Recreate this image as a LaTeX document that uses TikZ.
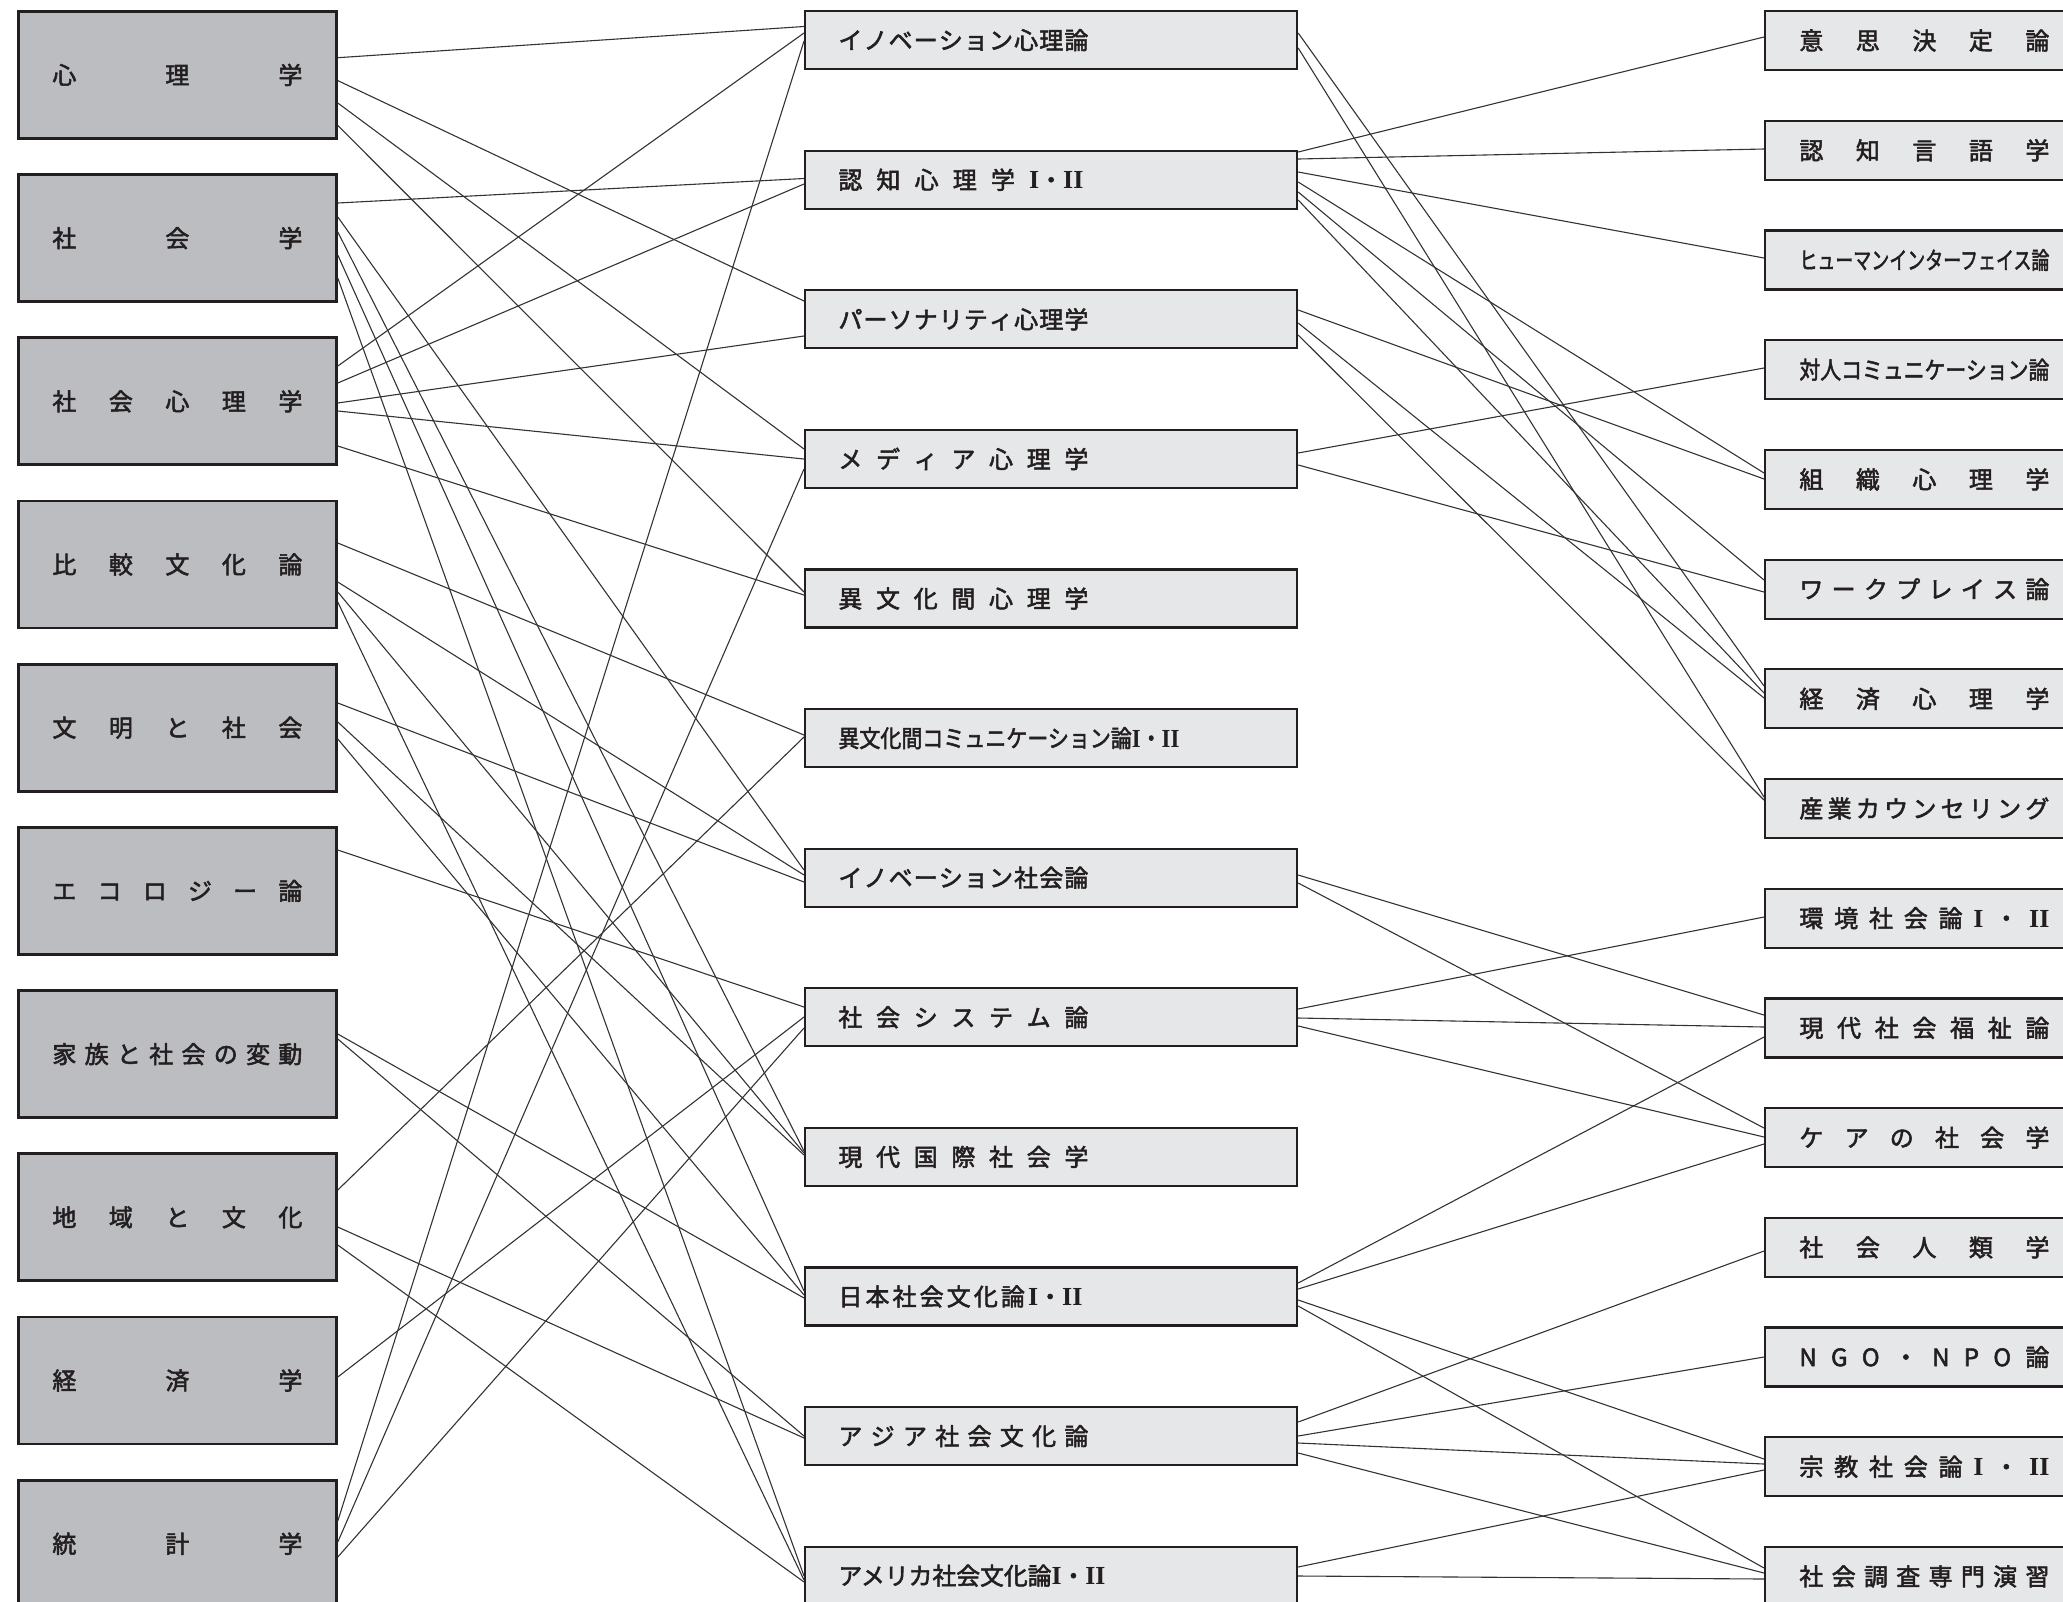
\documentclass[tikz,border=0pt]{standalone}
\usepackage{fontspec}
\usepackage{graphicx}
\newfontfamily\jp{Noto Sans CJK JP}[FakeBold=2.2]
\newfontfamily\romf{Liberation Serif}
\definecolor{leftfill}{HTML}{BCBDC1}
\definecolor{boxfill}{HTML}{E6E7E8}
\definecolor{edge}{HTML}{231F20}
\definecolor{wirec}{HTML}{333333}
\ExplSyntaxOn
\NewDocumentCommand\spreadtxt{mm}{
  \seq_clear:N \l_tmpa_seq
  \tl_map_inline:nn {#2} { \seq_put_right:Nn \l_tmpa_seq {##1} }
  \makebox[#1][s]{ \seq_use:Nn \l_tmpa_seq {\hfill} }
}
\ExplSyntaxOff
\newcommand\squeezetxt[2]{\resizebox{#1}{\height}{#2}}
\newcommand\rI{{\romf\bfseries\fontsize{13pt}{14pt}\selectfont I}}
\newcommand\rII{{\romf\bfseries\fontsize{13pt}{14pt}\selectfont II}}
\newcommand\rIII{\rI・\rII}
\begin{document}
\begin{tikzpicture}[x=0.5pt,y=-0.5pt,
  lbox/.style={draw=edge,line width=1.4pt,fill=leftfill,minimum width=159pt,minimum height=63.5pt,anchor=north west,inner sep=0pt},
  mbox/.style={draw=edge,line width=1.1pt,fill=boxfill,minimum width=246pt,minimum height=29pt,anchor=north west,inner sep=0pt},
  rbox/.style={draw=edge,line width=1.1pt,fill=boxfill,minimum width=165pt,minimum height=29.5pt,anchor=north west,inner sep=0pt},
  lbl/.style={font=\jp\fontsize{12pt}{14pt}\selectfont,text=edge,inner sep=0pt,anchor=west},
  wire/.style={draw=wirec,line width=0.55pt}]
\useasboundingbox (0,0) rectangle (2063,1602);
\clip (0,0) rectangle (2063,1602);
% left column
\node[lbox] (L1) at (17,10) {};
\node[lbox] (L2) at (17,173.2) {};
\node[lbox] (L3) at (17,336.4) {};
\node[lbox] (L4) at (17,499.6) {};
\node[lbox] (L5) at (17,662.8) {};
\node[lbox] (L6) at (17,826) {};
\node[lbox] (L7) at (17,989.2) {};
\node[lbox] (L8) at (17,1152.4) {};
\node[lbox] (L9) at (17,1315.6) {};
\node[lbox] (L10) at (17,1478.8) {};
\node[lbl] (L1t) at ([xshift=17.5pt]L1.west) {\spreadtxt{125pt}{心理学}};
\node[lbl] (L2t) at ([xshift=17.5pt]L2.west) {\spreadtxt{125pt}{社会学}};
\node[lbl] (L3t) at ([xshift=17.5pt]L3.west) {\spreadtxt{125pt}{社会心理学}};
\node[lbl] (L4t) at ([xshift=17.5pt]L4.west) {\spreadtxt{125pt}{比較文化論}};
\node[lbl] (L5t) at ([xshift=17.5pt]L5.west) {\spreadtxt{125pt}{文明と社会}};
\node[lbl] (L6t) at ([xshift=17.5pt]L6.west) {\spreadtxt{125pt}{エコロジー論}};
\node[lbl] (L7t) at ([xshift=17.5pt]L7.west) {\spreadtxt{125pt}{家族と社会の変動}};
\node[lbl] (L8t) at ([xshift=17.5pt]L8.west) {\spreadtxt{125pt}{地域と文化}};
\node[lbl] (L9t) at ([xshift=17.5pt]L9.west) {\spreadtxt{125pt}{経済学}};
\node[lbl] (L10t) at ([xshift=17.5pt]L10.west) {\spreadtxt{125pt}{統計学}};
% middle column
\node[mbox] (M1) at (804,10) {};
\node[mbox] (M2) at (804,149.6) {};
\node[mbox] (M3) at (804,289.2) {};
\node[mbox] (M4) at (804,428.8) {};
\node[mbox] (M5) at (804,568.4) {};
\node[mbox] (M6) at (804,708) {};
\node[mbox] (M7) at (804,847.6) {};
\node[mbox] (M8) at (804,987.2) {};
\node[mbox] (M9) at (804,1126.8) {};
\node[mbox] (M10) at (804,1266.4) {};
\node[mbox] (M11) at (804,1406) {};
\node[mbox] (M12) at (804,1545.6) {};
\node[lbl] (M1t) at ([xshift=17pt]M1.west) {\spreadtxt{125pt}{イノベーション心理論}};
\node[lbl] (M2t) at ([xshift=17pt]M2.west) {\spreadtxt{122.5pt}{認知心理学{\rIII}}};
\node[lbl] (M3t) at ([xshift=17pt]M3.west) {\spreadtxt{125pt}{パーソナリティ心理学}};
\node[lbl] (M4t) at ([xshift=17pt]M4.west) {\spreadtxt{125pt}{メディア心理学}};
\node[lbl] (M5t) at ([xshift=17pt]M5.west) {\spreadtxt{125pt}{異文化間心理学}};
\node[lbl] (M6t) at ([xshift=17pt]M6.west) {\squeezetxt{170.5pt}{異文化間コミュニケーション論\rIII}};
\node[lbl] (M7t) at ([xshift=17pt]M7.west) {\spreadtxt{125pt}{イノベーション社会論}};
\node[lbl] (M8t) at ([xshift=17pt]M8.west) {\spreadtxt{125pt}{社会システム論}};
\node[lbl] (M9t) at ([xshift=17pt]M9.west) {\spreadtxt{125pt}{現代国際社会学}};
\node[lbl] (M10t) at ([xshift=17pt]M10.west) {\spreadtxt{122pt}{日本社会文化論{\rIII}}};
\node[lbl] (M11t) at ([xshift=17pt]M11.west) {\spreadtxt{125pt}{アジア社会文化論}};
\node[lbl] (M12t) at ([xshift=17pt]M12.west) {\squeezetxt{133.5pt}{アメリカ社会文化論\rIII}};
% right column
\node[rbox] (R1) at (1764,10) {};
\node[rbox] (R2) at (1764,119.7) {};
\node[rbox] (R3) at (1764,229.4) {};
\node[rbox] (R4) at (1764,339.1) {};
\node[rbox] (R5) at (1764,448.8) {};
\node[rbox] (R6) at (1764,558.5) {};
\node[rbox] (R7) at (1764,668.2) {};
\node[rbox] (R8) at (1764,777.9) {};
\node[rbox] (R9) at (1764,887.6) {};
\node[rbox] (R10) at (1764,997.3) {};
\node[rbox] (R11) at (1764,1107) {};
\node[rbox] (R12) at (1764,1216.7) {};
\node[rbox] (R13) at (1764,1326.4) {};
\node[rbox] (R14) at (1764,1436.1) {};
\node[rbox] (R15) at (1764,1545.8) {};
\node[lbl] (R1t) at ([xshift=17.5pt]R1.west) {\spreadtxt{125pt}{意思決定論}};
\node[lbl] (R2t) at ([xshift=17.5pt]R2.west) {\spreadtxt{125pt}{認知言語学}};
\node[lbl] (R3t) at ([xshift=17.5pt]R3.west) {\squeezetxt{125pt}{ヒューマンインターフェイス論}};
\node[lbl] (R4t) at ([xshift=17.5pt]R4.west) {\squeezetxt{125pt}{対人コミュニケーション論}};
\node[lbl] (R5t) at ([xshift=17.5pt]R5.west) {\spreadtxt{125pt}{組織心理学}};
\node[lbl] (R6t) at ([xshift=17.5pt]R6.west) {\spreadtxt{125pt}{ワークプレイス論}};
\node[lbl] (R7t) at ([xshift=17.5pt]R7.west) {\spreadtxt{125pt}{経済心理学}};
\node[lbl] (R8t) at ([xshift=17.5pt]R8.west) {\spreadtxt{125pt}{産業カウンセリング}};
\node[lbl] (R9t) at ([xshift=17.5pt]R9.west) {\spreadtxt{125pt}{環境社会論\rI・\rII}};
\node[lbl] (R10t) at ([xshift=17.5pt]R10.west) {\spreadtxt{125pt}{現代社会福祉論}};
\node[lbl] (R11t) at ([xshift=17.5pt]R11.west) {\spreadtxt{125pt}{ケアの社会学}};
\node[lbl] (R12t) at ([xshift=17.5pt]R12.west) {\spreadtxt{125pt}{社会人類学}};
\node[lbl] (R13t) at ([xshift=17.5pt]R13.west) {\spreadtxt{125pt}{NGO・NPO論}};
\node[lbl] (R14t) at ([xshift=17.5pt]R14.west) {\spreadtxt{125pt}{宗教社会論\rI・\rII}};
\node[lbl] (R15t) at ([xshift=17.5pt]R15.west) {\spreadtxt{125pt}{社会調査専門演習}};
% left -> middle
\draw[wire] (L1.east |- 0,57.7) -- (M1.west |- 0,26.5);
\draw[wire] (L1.east |- 0,80.6) -- (M3.west |- 0,301);
\draw[wire] (L1.east |- 0,103) -- (M4.west |- 0,449);
\draw[wire] (L1.east |- 0,125.5) -- (M5.west |- 0,592);
\draw[wire] (L2.east |- 0,203) -- (M2.west |- 0,178.5);
\draw[wire] (L2.east |- 0,217) -- (M7.west |- 0,870);
\draw[wire] (L2.east |- 0,232) -- (M9.west |- 0,1151);
\draw[wire] (L2.east |- 0,255) -- (M10.west |- 0,1291);
\draw[wire] (L2.east |- 0,278) -- (M12.west |- 0,1576);
\draw[wire] (L3.east |- 0,366) -- (M1.west |- 0,33);
\draw[wire] (L3.east |- 0,383) -- (M2.west |- 0,184);
\draw[wire] (L3.east |- 0,403) -- (M3.west |- 0,336);
\draw[wire] (L3.east |- 0,411) -- (M4.west |- 0,459);
\draw[wire] (L3.east |- 0,446) -- (M5.west |- 0,595);
\draw[wire] (L4.east |- 0,543) -- (M6.west |- 0,735);
\draw[wire] (L4.east |- 0,582) -- (M7.west |- 0,875);
\draw[wire] (L4.east |- 0,592) -- (M9.west |- 0,1153);
\draw[wire] (L4.east |- 0,602) -- (M12.west |- 0,1580);
\draw[wire] (L5.east |- 0,703) -- (M7.west |- 0,882);
\draw[wire] (L5.east |- 0,722) -- (M9.west |- 0,1155);
\draw[wire] (L5.east |- 0,739) -- (M10.west |- 0,1295);
\draw[wire] (L6.east |- 0,850) -- (M8.west |- 0,1007);
\draw[wire] (L7.east |- 0,1034) -- (M10.west |- 0,1298);
\draw[wire] (L7.east |- 0,1039) -- (M11.west |- 0,1436);
\draw[wire] (L8.east |- 0,1190) -- (M6.west |- 0,737);
\draw[wire] (L8.east |- 0,1227) -- (M11.west |- 0,1438);
\draw[wire] (L8.east |- 0,1245) -- (M12.west |- 0,1582);
\draw[wire] (L9.east |- 0,1377) -- (M8.west |- 0,1017);
\draw[wire] (L10.east |- 0,1521) -- (M1.west |- 0,41);
\draw[wire] (L10.east |- 0,1542) -- (M4.west |- 0,469);
\draw[wire] (L10.east |- 0,1557) -- (M8.west |- 0,1028);
% middle -> right
\draw[wire] (M1.east |- 0,33) -- (R7.west |- 0,686);
\draw[wire] (M1.east |- 0,48) -- (R8.west |- 0,797);
\draw[wire] (M2.east |- 0,152) -- (R1.west |- 0,37);
\draw[wire] (M2.east |- 0,159) -- (R2.west |- 0,149);
\draw[wire] (M2.east |- 0,172) -- (R3.west |- 0,258);
\draw[wire] (M2.east |- 0,182) -- (R5.west |- 0,473);
\draw[wire] (M2.east |- 0,192) -- (R6.west |- 0,580);
\draw[wire] (M2.east |- 0,200) -- (R7.west |- 0,693);
\draw[wire] (M3.east |- 0,310) -- (R5.west |- 0,479);
\draw[wire] (M3.east |- 0,323) -- (R7.west |- 0,698);
\draw[wire] (M3.east |- 0,335) -- (R8.west |- 0,800);
\draw[wire] (M4.east |- 0,453) -- (R4.west |- 0,368);
\draw[wire] (M4.east |- 0,465) -- (R6.west |- 0,592);
\draw[wire] (M7.east |- 0,875) -- (R10.west |- 0,1015);
\draw[wire] (M7.east |- 0,883) -- (R11.west |- 0,1128);
\draw[wire] (M8.east |- 0,1009) -- (R9.west |- 0,917);
\draw[wire] (M8.east |- 0,1018) -- (R10.west |- 0,1027);
\draw[wire] (M8.east |- 0,1026) -- (R11.west |- 0,1137);
\draw[wire] (M10.east |- 0,1283) -- (R10.west |- 0,1037);
\draw[wire] (M10.east |- 0,1289) -- (R11.west |- 0,1144);
\draw[wire] (M10.east |- 0,1300) -- (R14.west |- 0,1459);
\draw[wire] (M10.east |- 0,1306) -- (R15.west |- 0,1568);
\draw[wire] (M11.east |- 0,1422) -- (R12.west |- 0,1251);
\draw[wire] (M11.east |- 0,1436) -- (R13.west |- 0,1357);
\draw[wire] (M11.east |- 0,1443) -- (R14.west |- 0,1464);
\draw[wire] (M11.east |- 0,1453) -- (R15.west |- 0,1573);
\draw[wire] (M12.east |- 0,1567) -- (R14.west |- 0,1470);
\draw[wire] (M12.east |- 0,1576) -- (R15.west |- 0,1579);
\end{tikzpicture}
\end{document}
